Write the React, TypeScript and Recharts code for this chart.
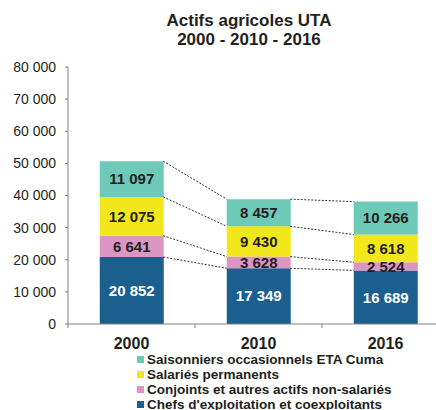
import React from "react";
import { BarChart, Bar, XAxis, YAxis, LabelList, ReferenceLine } from "recharts";

const years = ["2000", "2010", "2016"];
const chefs = [20852, 17349, 16689];
const conjoints = [6641, 3628, 2524];
const salaries = [12075, 9430, 8618];
const saisonniers = [11097, 8457, 10266];
const yTicks = [0, 10000, 20000, 30000, 40000, 50000, 60000, 70000, 80000];

const series = [
  { key: "chefs", name: "Chefs d'exploitation et coexploitants", values: chefs, color: "#1b5f8f", text: "#ffffff" },
  { key: "conjoints", name: "Conjoints et autres actifs non-salariés", values: conjoints, color: "#dc96c4", text: "#231f20" },
  { key: "salaries", name: "Salariés permanents", values: salaries, color: "#f1e71b", text: "#231f20" },
  { key: "saisonniers", name: "Saisonniers occasionnels ETA Cuma", values: saisonniers, color: "#6dc9b8", text: "#231f20" },
];

const data = years.map((year, i) => {
  const row: Record<string, any> = { year, pos: i };
  series.forEach((s) => (row[s.key] = s.values[i]));
  return row;
});

// cumulative tops of each stack level, for the dotted connectors
const tops = series.map((_, k) =>
  years.map((_, i) => series.slice(0, k + 1).reduce((sum, s) => sum + s.values[i], 0))
);

const fmt = (v: number) => String(v).replace(/\B(?=(\d{3})+(?!\d))/g, " ");
const font = "'Liberation Sans', Arial, sans-serif";

function YearTick(props: any) {
  const { x, y, payload } = props;
  const off = payload.offset || 0;
  return (
    <g>
      <line x1={x - off} y1={y} x2={x - off} y2={y + 4} stroke="#808080" />
      <text x={x} y={y + 25} textAnchor="middle" fontSize={16} fontWeight="bold" fill="#231f20" fontFamily={font}>
        {payload.value}
      </text>
    </g>
  );
}

export default function App() {
  return (
    <div style={{ position: "absolute", left: 0, top: 0, width: 436, height: 410, overflow: "hidden", background: "#fff", fontFamily: font }}>
      <div style={{ position: "absolute", left: 99, top: 11, width: 300, textAlign: "center", fontSize: 17, fontWeight: "bold", lineHeight: "19px", color: "#231f20" }}>
        Actifs agricoles UTA
        <br />
        2000 - 2010 - 2016
      </div>
      <BarChart width={470} height={410} data={data} margin={{ top: 67, right: 21, left: 0, bottom: 56 }} barCategoryGap="25%">
        <XAxis dataKey="year" height={30} axisLine={{ stroke: "#808080" }} tickLine={false} tickSize={0} tickMargin={0} tick={<YearTick />} interval={0} />
        <XAxis xAxisId="n" dataKey="pos" type="number" domain={[0, 3]} allowDataOverflow hide />
        <YAxis
          width={68}
          domain={[0, 80000]}
          ticks={yTicks}
          tickFormatter={fmt}
          axisLine={{ stroke: "#808080" }}
          tickLine={{ stroke: "#808080" }}
          tickSize={3}
          tickMargin={9}
          tick={{ fontSize: 14, fill: "#231f20", fontFamily: font }}
          interval={0}
        />
        {series.map((s) => (
          <Bar key={s.key} dataKey={s.key} stackId="a" fill={s.color} isAnimationActive={false}>
            <LabelList dataKey={s.key} position="center" formatter={(v: any) => fmt(v)} fill={s.text} fontSize={15} fontWeight="bold" fontFamily={font} />
          </Bar>
        ))}
        {tops.map((level, k) =>
          [0, 1].map((i) => (
            <ReferenceLine
              key={`c${k}-${i}`}
              xAxisId="n"
              ifOverflow="visible"
              segment={[
                { x: i + 0.75, y: level[i] },
                { x: i + 1.25, y: level[i + 1] },
              ]}
              stroke="#333333"
              strokeWidth={1}
              strokeDasharray="2 1.5"
            />
          ))
        )}
      </BarChart>
      <div style={{ position: "absolute", left: 137, top: 352, fontSize: 13.5, fontWeight: "bold", lineHeight: "15px", color: "#231f20" }}>
        {[...series].reverse().map((s) => (
          <div key={s.key} style={{ display: "flex", alignItems: "center", whiteSpace: "nowrap" }}>
            <span style={{ display: "inline-block", width: 7, height: 7, background: s.color, marginRight: 3 }} />
            {s.name}
          </div>
        ))}
      </div>
    </div>
  );
}
